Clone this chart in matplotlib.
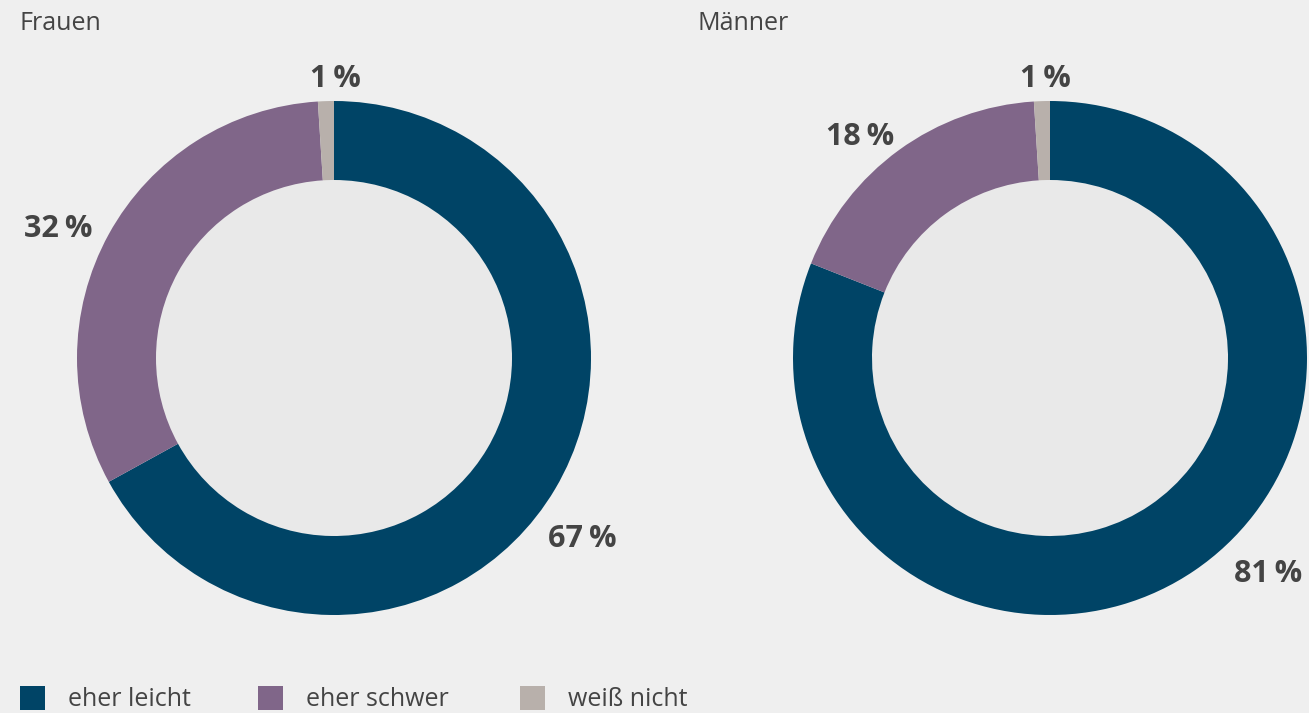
import matplotlib
matplotlib.use("Agg")
import matplotlib.pyplot as plt
from matplotlib.patches import Circle, Rectangle

# Data
categories = ["eher leicht", "eher schwer", "weiß nicht"]
groups = ["Frauen", "Männer"]
frauen = [67, 32, 1]
maenner = [81, 18, 1]
colors = ["#004466", "#806689", "#b8b0ab"]

W, H = 1309, 713
fig = plt.figure(figsize=(W / 100, H / 100), dpi=100)
fig.patch.set_facecolor("#efefef")
ax = fig.add_axes([0, 0, 1, 1])
ax.set_facecolor("#efefef")

FONT = ["Open Sans", "DejaVu Sans"]
TXT = "#444444"

def y(p):
    return H - p

R_OUT, R_IN = 257, 178
centers = [(334, y(358)), (1050, y(358))]
label_pos = [
    [(582, y(539)), (58, y(229)), (335, y(79))],
    [(1268, y(574)), (860, y(137)), (1045, y(79))],
]
title_pos = [(20, y(23)), (697, y(23))]

for vals, c, lp, g, tp in zip([frauen, maenner], centers, label_pos, groups, title_pos):
    ax.pie(vals, colors=colors, startangle=90, counterclock=False, center=c,
           radius=R_OUT, wedgeprops=dict(width=R_OUT - R_IN, linewidth=0),
           frame=True)
    ax.add_patch(Circle(c, R_IN, facecolor="#e9e9e9", edgecolor="none", zorder=0.5))
    for v, (lx, ly) in zip(vals, lp):
        ax.text(lx, ly, f"{v}\u2009%", ha="center", va="center", fontsize=22,
                fontweight="bold", color=TXT, family=FONT)
    ax.text(tp[0], tp[1], g, ha="left", va="center", fontsize=18, color=TXT, family=FONT)

ax.set_xlim(0, W)
ax.set_ylim(0, H)
ax.set_aspect("equal")
ax.axis("off")

# Legend
leg_x = [20, 258, 520]
for cat, col, lx in zip(categories, colors, leg_x):
    ax.add_patch(Rectangle((lx, y(710)), 25, 24, facecolor=col, edgecolor="none"))
    ax.text(lx + 48, y(700), cat, ha="left", va="center", fontsize=18, color=TXT, family=FONT)

fig.savefig("out.png", dpi=100, facecolor=fig.get_facecolor())
